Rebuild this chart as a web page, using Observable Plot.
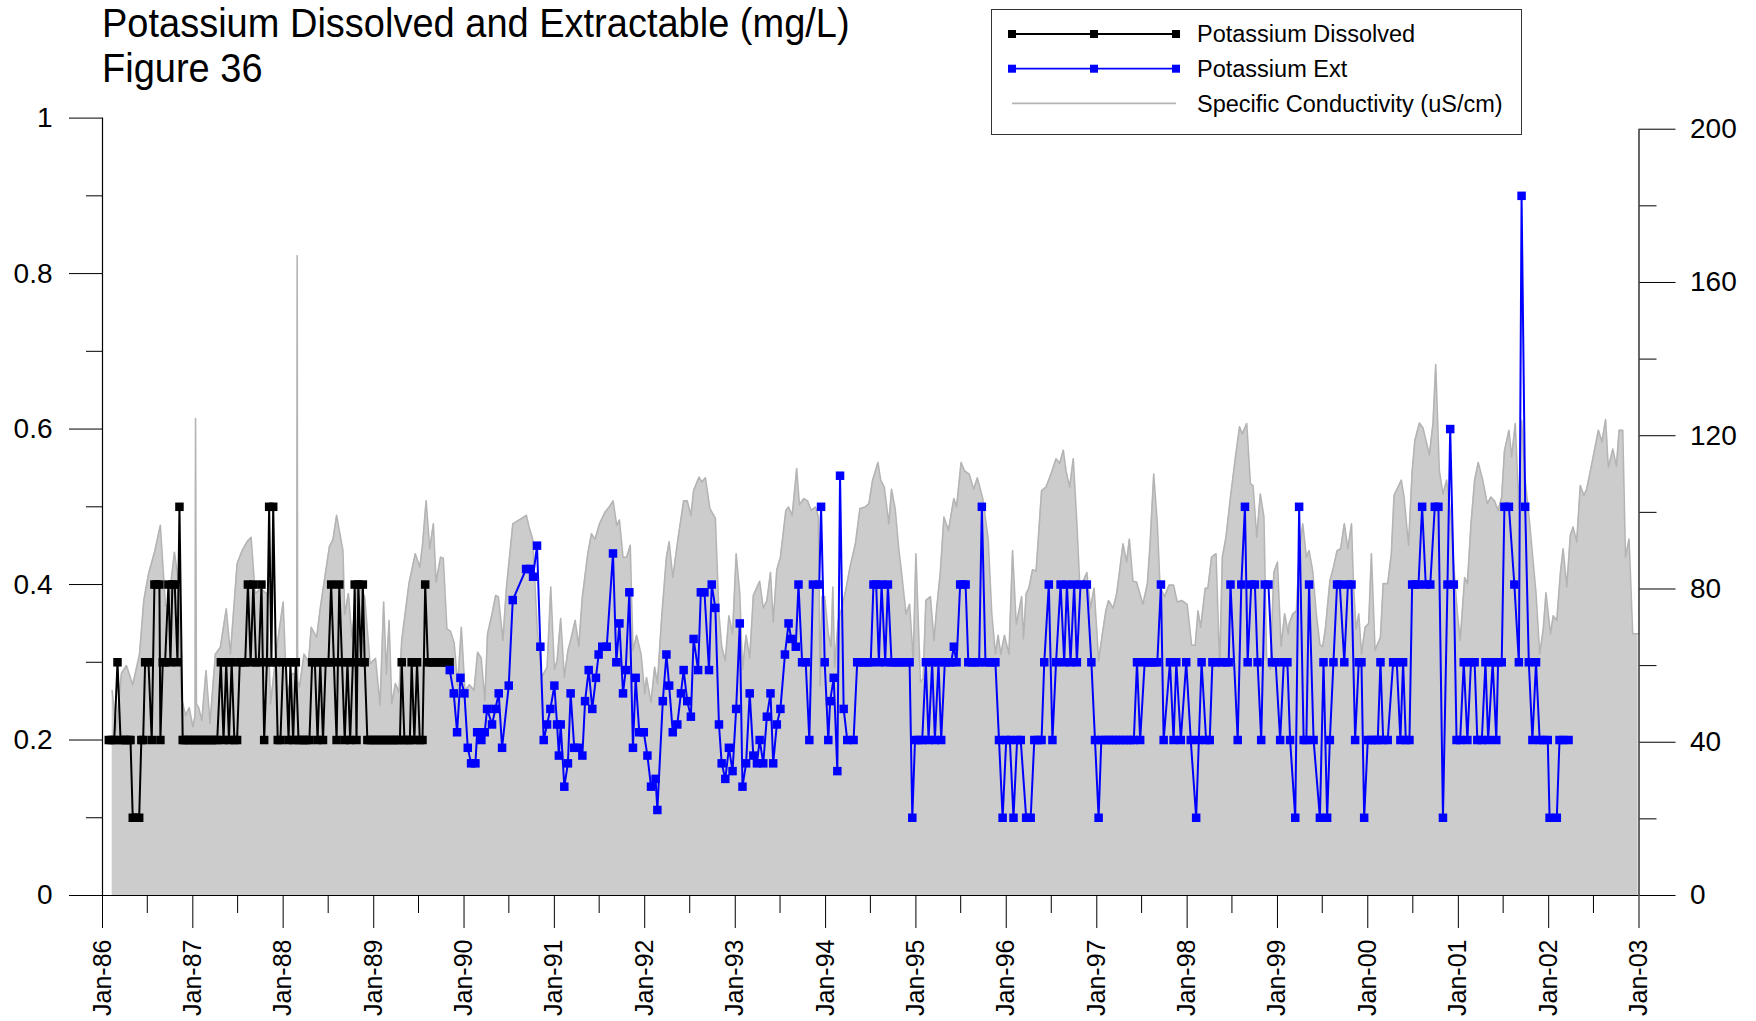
<!DOCTYPE html>
<html>
<head>
<meta charset="utf-8">
<script src="https://cdn.jsdelivr.net/npm/d3@7"></script>
<script src="https://cdn.jsdelivr.net/npm/@observablehq/plot@0.6"></script>
<style>
  html, body { margin: 0; padding: 0; background: #fff; }
  #wrap { position: relative; width: 1756px; height: 1021px; overflow: hidden; font-family: "Liberation Sans", Arial, sans-serif; }
  #title { position: absolute; left: 102px; top: 0.5px; font-size: 38px; line-height: 42px; color: #000; transform: scaleY(1.06); transform-origin: left top; white-space: nowrap; }
  #legend { position: absolute; left: 991px; top: 9px; width: 529px; height: 124px; border: 1px solid #333; background: #fff; }
  #chart { position: absolute; left: 0; top: 0; }
</style>
</head>
<body>
<div id="wrap">
  <div id="chart"></div>
  <div id="title">Potassium Dissolved and Extractable (mg/L)<br>Figure 36</div>
  <div id="legend"></div>
</div>
<script>
// ---------- DATA (decimal years) ----------
const dissolvedYears = [
  1986.07,1986.10,1986.13,1986.166,1986.20,1986.23,1986.26,1986.29,1986.31,1986.335,1986.37,1986.406,1986.43,1986.45,
  1986.472,1986.509,1986.545,1986.575,1986.60,1986.63,1986.641,1986.667,1986.693,1986.73,1986.752,1986.774,1986.80,1986.83,1986.852,1986.888,
  1986.91,1986.94,1986.97,1987.00,1987.03,1987.06,1987.09,1987.12,1987.15,1987.18,1987.21,1987.24,1987.27,
  1987.31,1987.34,1987.37,1987.40,1987.43,1987.46,1987.49,1987.52,1987.55,1987.58,1987.61,1987.64,1987.67,1987.70,1987.73,
  1987.76,1987.79,1987.82,1987.845,1987.87,1987.89,1987.92,1987.94,1987.97,1988.00,1988.03,1988.06,1988.08,1988.11,1988.14,
  1988.17,1988.20,1988.23,1988.26,1988.29,1988.32,1988.35,1988.38,1988.41,1988.44,1988.47,1988.50,1988.53,1988.56,1988.59,
  1988.62,1988.65,1988.68,1988.71,1988.74,1988.77,1988.79,1988.81,1988.83,1988.86,1988.88,1988.90,1988.93,1988.96,1988.99,
  1989.02,1989.05,1989.08,1989.11,1989.14,1989.17,1989.20,1989.23,1989.26,1989.29,1989.31,1989.34,1989.37,1989.40,1989.42,
  1989.45,1989.48,1989.51,1989.54,1989.57,1989.60,1989.63,1989.66,1989.69,1989.72,1989.75,1989.78,1989.81,1989.84
];
const dissolvedValues = [
  0.2,0.2,0.2,0.3,0.2,0.2,0.2,0.2,0.2,0.1,0.1,0.1,0.2,0.2,
  0.3,0.3,0.2,0.4,0.4,0.4,0.2,0.3,0.3,0.4,0.3,0.4,0.4,0.3,0.5,0.2,
  0.2,0.2,0.2,0.2,0.2,0.2,0.2,0.2,0.2,0.2,0.2,0.2,0.2,
  0.3,0.2,0.3,0.2,0.3,0.2,0.2,0.3,0.3,0.3,0.4,0.3,0.4,0.3,0.3,
  0.4,0.2,0.3,0.5,0.3,0.5,0.3,0.2,0.2,0.3,0.3,0.2,0.3,0.2,0.3,
  0.2,0.2,0.2,0.2,0.2,0.3,0.3,0.2,0.3,0.2,0.3,0.3,0.4,0.3,0.2,
  0.4,0.3,0.2,0.3,0.2,0.3,0.4,0.2,0.4,0.3,0.4,0.3,0.2,0.2,0.2,
  0.2,0.2,0.2,0.2,0.2,0.2,0.2,0.2,0.2,0.2,0.3,0.2,0.2,0.2,0.3,
  0.2,0.3,0.2,0.2,0.4,0.3,0.3,0.3,0.3,0.3,0.3,0.3,0.3,0.3
];

const extYears = [
  1989.842,1989.886,1989.923,1989.960,1990.004,1990.041,1990.078,1990.126,1990.145,1990.192,1990.229,1990.255,1990.310,1990.347,
  1990.384,1990.421,1990.495,1990.539,1990.687,1990.735,1990.764,1990.808,1990.845,1990.882,1990.919,1990.956,1991.00,1991.03,
  1991.05,1991.07,1991.11,1991.15,1991.18,1991.22,1991.27,1991.31,1991.34,1991.38,1991.42,1991.46,1991.49,1991.53,1991.58,
  1991.649,1991.686,1991.72,1991.76,1991.79,1991.83,1991.87,1991.90,1991.94,1991.99,1992.03,1992.07,1992.12,1992.14,1992.20,
  1992.24,1992.27,1992.31,1992.36,1992.40,1992.43,1992.47,1992.51,1992.54,1992.59,1992.62,1992.66,1992.71,1992.74,1992.78,
  1992.82,1992.85,1992.89,1992.93,1992.97,1993.01,1993.05,1993.08,1993.12,1993.16,1993.20,1993.24,1993.27,1993.31,1993.35,
  1993.39,1993.42,1993.46,1993.50,1993.55,1993.59,1993.62,1993.67,1993.70,1993.74,1993.78,1993.82,1993.86,1993.93,1993.95,
  1993.99,1994.03,1994.05,1994.09,1994.13,1994.16,1994.20,1994.24,1994.31,
  1994.35,1994.39,1994.43,1994.47,1994.50,1994.53,1994.56,1994.59,1994.62,1994.66,1994.69,1994.73,1994.76,1994.80,1994.84,
  1994.88,1994.93,1994.96,1994.99,1995.03,1995.07,1995.11,1995.14,1995.18,1995.21,1995.25,1995.28,1995.32,1995.36,1995.39,
  1995.42,1995.45,1995.49,1995.52,1995.55,1995.58,1995.62,1995.66,1995.70,1995.73,1995.77,1995.81,1995.85,1995.88,1995.92,
  1995.96,1996.00,1996.04,1996.08,1996.12,1996.16,1996.22,1996.27,1996.31,1996.35,1996.39,1996.42,1996.47,1996.51,1996.55,
  1996.60,1996.64,1996.67,1996.71,1996.75,1996.78,1996.82,1996.89,1996.94,1996.98,1997.02,1997.05,
  1997.09,1997.13,1997.17,1997.21,1997.25,1997.29,1997.33,1997.37,1997.41,1997.445,1997.48,1997.53,1997.57,1997.60,1997.64,
  1997.67,1997.71,1997.74,1997.81,1997.85,1997.88,1997.93,1997.99,1998.04,1998.10,1998.13,1998.16,1998.21,1998.25,1998.28,
  1998.32,1998.38,1998.43,1998.46,1998.48,1998.56,1998.60,1998.64,1998.67,1998.71,1998.75,1998.78,1998.82,1998.86,1998.90,
  1998.94,1998.98,1999.03,1999.07,1999.11,1999.14,1999.197,1999.24,1999.29,1999.32,1999.35,1999.40,1999.47,1999.51,1999.55,
  1999.58,1999.62,1999.66,1999.69,1999.74,1999.78,1999.82,1999.86,1999.90,1999.93,1999.96,
  2000.00,2000.04,2000.08,2000.11,2000.14,2000.17,2000.22,2000.28,2000.32,2000.36,2000.39,2000.42,2000.46,2000.49,2000.52,
  2000.56,2000.60,2000.64,2000.69,2000.74,2000.78,2000.83,2000.88,2000.91,2000.95,2000.98,2001.02,2001.06,2001.10,2001.14,
  2001.18,2001.21,2001.26,2001.30,2001.33,2001.38,2001.42,2001.44,2001.48,2001.51,2001.56,2001.62,2001.67,2001.70,2001.74,
  2001.78,2001.82,2001.86,2001.90,2001.94,2001.99,2002.01,2002.09,2002.12,2002.16,2002.22
];
const extValues = [
  0.29,0.26,0.21,0.28,0.26,0.19,0.17,0.17,0.21,0.20,0.21,0.24,0.22,0.24,
  0.26,0.19,0.27,0.38,0.42,0.42,0.41,0.45,0.32,0.20,0.22,0.24,0.27,0.22,
  0.18,0.22,0.14,0.17,0.26,0.19,0.19,0.18,0.25,0.29,0.24,0.28,0.31,0.32,0.32,
  0.44,0.30,0.35,0.26,0.29,0.39,0.19,0.28,0.21,0.21,0.18,0.14,0.15,0.11,0.25,
  0.31,0.27,0.21,0.22,0.26,0.29,0.25,0.23,0.33,0.29,0.39,0.39,0.29,0.40,0.37,
  0.22,0.17,0.15,0.19,0.16,0.24,0.35,0.14,0.17,0.26,0.18,0.17,0.20,0.17,0.23,
  0.26,0.17,0.22,0.24,0.31,0.35,0.33,0.32,0.40,0.30,0.30,0.20,0.40,0.40,0.50,
  0.30,0.20,0.25,0.28,0.16,0.54,0.24,0.20,0.20,
  0.30,0.30,0.30,0.30,0.30,0.40,0.40,0.30,0.40,0.30,0.40,0.30,0.30,0.30,0.30,
  0.30,0.30,0.10,0.20,0.20,0.20,0.30,0.20,0.30,0.20,0.30,0.20,0.30,0.30,0.30,
  0.32,0.30,0.40,0.40,0.40,0.30,0.30,0.30,0.30,0.50,0.30,0.30,0.30,0.30,0.20,
  0.10,0.20,0.20,0.10,0.20,0.20,0.10,0.10,0.20,0.20,0.20,0.30,0.40,0.20,0.30,
  0.40,0.30,0.40,0.30,0.40,0.30,0.40,0.40,0.30,0.20,0.10,0.20,
  0.20,0.20,0.20,0.20,0.20,0.20,0.20,0.20,0.20,0.30,0.20,0.30,0.30,0.30,0.30,
  0.30,0.40,0.20,0.30,0.20,0.30,0.20,0.30,0.20,0.10,0.20,0.30,0.20,0.20,0.30,
  0.30,0.30,0.30,0.30,0.40,0.20,0.40,0.50,0.30,0.40,0.40,0.30,0.20,0.40,0.40,
  0.30,0.30,0.20,0.30,0.30,0.20,0.10,0.50,0.20,0.20,0.40,0.20,0.10,0.30,0.10,
  0.20,0.30,0.40,0.40,0.30,0.40,0.40,0.20,0.30,0.30,0.10,
  0.20,0.20,0.20,0.20,0.30,0.20,0.20,0.30,0.30,0.20,0.30,0.20,0.20,0.40,0.40,
  0.40,0.50,0.40,0.40,0.50,0.50,0.10,0.40,0.60,0.40,0.20,0.20,0.30,0.20,0.30,
  0.30,0.20,0.20,0.30,0.20,0.30,0.20,0.30,0.30,0.50,0.50,0.40,0.30,0.90,0.50,
  0.30,0.20,0.30,0.20,0.20,0.20,0.10,0.10,0.20,0.20,0.20
];

const condYears = [
  1986.107,1986.15,1986.21,1986.265,1986.335,1986.41,1986.457,1986.51,1986.58,1986.64,1986.697,1986.73,1986.796,1986.84,
  1986.87,1986.92,1986.96,1987.00,1987.025,1987.03,1987.04,1987.065,1987.10,1987.146,1987.19,1987.25,1987.305,1987.37,
  1987.416,1987.49,1987.545,1987.60,1987.645,1987.69,1987.75,1987.82,1987.86,1987.93,1988.00,1988.04,1988.10,1988.15,
  1988.155,1988.16,1988.18,1988.23,1988.28,1988.31,1988.37,1988.41,1988.46,1988.51,1988.55,1988.59,1988.66,1988.68,
  1988.72,1988.76,1988.82,1988.90,1988.96,1989.02,1989.07,1989.11,1989.14,1989.17,1989.20,1989.24,1989.28,1989.31,
  1989.39,1989.46,1989.51,1989.54,1989.58,1989.62,1989.66,1989.69,1989.74,1989.77,1989.81,1989.85,1989.89,1989.93,
  1989.97,1990.01,1990.06,1990.11,1990.15,1990.19,1990.23,1990.26,1990.31,1990.35,1990.38,1990.43,1990.47,1990.54,
  1990.69,1990.72,1990.76,1990.81,1990.86,1990.92,1990.96,1991.00,1991.03,1991.07,1991.11,1991.15,1991.18,1991.23,
  1991.27,1991.31,1991.37,1991.41,1991.45,1991.50,1991.56,1991.62,1991.65,1991.69,1991.72,1991.76,1991.80,1991.84,
  1991.87,1991.91,1991.96,1992.00,1992.02,1992.07,1992.11,1992.14,1992.19,1992.24,1992.27,1992.31,1992.37,1992.43,
  1992.47,1992.51,1992.54,1992.60,1992.63,1992.67,1992.72,1992.78,1992.82,1992.85,1992.89,1992.93,1992.97,1993.01,
  1993.05,1993.08,1993.12,1993.16,1993.20,1993.27,1993.31,1993.35,1993.39,1993.42,1993.46,1993.50,1993.56,1993.59,
  1993.63,1993.68,1993.71,1993.76,1993.80,1993.84,1993.89,1993.92,1993.94,1993.96,1993.99,1994.03,1994.06,1994.08,
  1994.10,1994.14,1994.18,1994.23,1994.27,1994.33,1994.38,1994.44,1994.48,1994.52,1994.58,1994.61,1994.65,1994.70,
  1994.73,1994.77,1994.81,1994.84,1994.89,1994.93,1994.97,1995.00,1995.05,1995.08,1995.11,1995.16,1995.20,1995.23,
  1995.27,1995.31,1995.36,1995.42,1995.45,1995.50,1995.54,1995.59,1995.64,1995.68,1995.74,1995.80,1995.84,1995.88,
  1995.91,1995.94,1995.98,1996.03,1996.07,1996.11,1996.14,1996.17,1996.19,1996.22,1996.25,1996.29,1996.33,1996.39,
  1996.44,1996.50,1996.55,1996.59,1996.63,1996.66,1996.70,1996.74,1996.78,1996.81,1996.85,1996.89,1996.93,1996.97,
  1997.02,1997.06,1997.10,1997.13,1997.18,1997.22,1997.25,1997.29,1997.33,1997.36,1997.40,1997.44,1997.51,1997.56,
  1997.59,1997.63,1997.67,1997.70,1997.75,1997.80,1997.85,1997.89,1997.94,1998.00,1998.05,1998.09,1998.12,1998.15,
  1998.20,1998.23,1998.27,1998.32,1998.36,1998.39,1998.43,1998.48,1998.53,1998.58,1998.61,1998.66,1998.70,1998.73,
  1998.77,1998.81,1998.85,1998.88,1998.92,1998.96,1999.00,1999.04,1999.08,1999.12,1999.13,1999.17,1999.21,1999.24,
  1999.28,1999.32,1999.35,1999.39,1999.43,1999.47,1999.50,1999.53,1999.58,1999.62,1999.66,1999.70,1999.74,1999.78,
  1999.82,1999.84,1999.87,1999.90,1999.93,1999.97,2000.01,2000.04,2000.08,2000.14,2000.17,2000.22,2000.26,2000.29,
  2000.37,2000.40,2000.45,2000.49,2000.52,2000.57,2000.61,2000.68,2000.72,2000.75,2000.79,2000.83,2000.87,2000.91,
  2000.95,2000.99,2001.02,2001.07,2001.10,2001.14,2001.18,2001.22,2001.27,2001.32,2001.36,2001.40,2001.44,2001.48,
  2001.51,2001.56,2001.59,2001.63,2001.67,2001.70,2001.74,2001.79,2001.82,2001.86,2001.90,2001.94,2001.97,2002.02,
  2002.05,2002.09,2002.13,2002.16,2002.20,2002.24,2002.27,2002.31,2002.35,2002.39,2002.42,2002.47,2002.55,2002.59,
  2002.63,2002.66,2002.71,2002.75,2002.78,2002.82,2002.85,2002.89,2002.93,2002.99
];
const condValues = [
  53.5,43,58,60,55,63,77,84,90,96.6,75.7,75.7,89.6,82,
  52,47,49,44,47,124.5,50,49,45.7,58.7,45,63,64.8,74.8,
  63,86.6,90,92.3,93.5,78.8,80,78.8,50,64.8,76.6,51.8,57.9,58,
  167,56,54.4,63,61,70,67.4,75,83,91,92.9,99.2,90,73.4,
  78.8,67.4,81.4,78,60.5,61.9,49.6,76.6,57.9,71.8,50,55.3,53,66.6,
  81.4,89.2,85.7,91.4,103,90.5,97,81.8,88.3,88,69.6,69,66,54.8,
  70,53.5,55,53.5,63.5,62,50.9,68.3,73.5,78.3,78,66.6,80.5,97,
  99.2,96.2,93,69.5,57,59.6,80.5,59,61.3,72.3,57,63.9,66.6,71.8,
  65,78,89.2,94.4,93,97,100,101.8,103,96.6,98,88.3,88.3,91.4,
  63.9,67.9,63,52.7,56.9,50.4,59.6,55.3,73.5,88.3,92.3,83,93.5,103,
  103,99.2,105.7,109.2,107.9,109,101,98.5,73.5,65,61.3,73,68.3,89.2,
  78.8,59,67.9,62,78.3,82,75,77,84.3,71.4,85,88.3,100.5,101.4,
  99.2,111.4,102,103.6,103,100.5,101.4,98.8,54.8,78,78,68.3,65,80.5,
  59.6,71.8,75,80.5,85.7,91.8,101,101.4,102.3,108.4,113,108.4,106.6,97,
  106,101,90.5,84.5,73.5,76,61.3,89.2,55.7,56.5,77,78,66.6,75,
  84.3,98.8,95.3,103.6,101.4,113,110.8,110,106,109,103.6,93,73.5,63,
  67.9,63,67.9,63,90,70.8,74.3,78,67,78.8,80.2,85,84.7,105.7,
  106.6,110.4,114,112.8,116.2,110.8,106.6,114,97,82,82,84.3,75,80.2,
  61.3,68,74.3,77,75,78.8,84.3,91.8,87,93,82,81.8,76,81.4,
  91.8,110,97,80.5,78,81,81,76.6,77,76,65.3,65.3,74.3,70,
  80.2,80.2,88.3,89.2,59.6,88.3,93.5,104,113.5,122.3,120.5,123.2,107.5,107,
  93.5,104.8,98.8,62,59,84.3,87,65,73.5,68.3,71,73.5,74.3,89.2,
  97,88.3,90,84.7,73.5,65.5,65,69.5,82,85.7,90,90.5,97,90.5,
  97,82,69.5,73.5,63,70,71,89.2,64,67.4,81.4,81.4,89.2,104.4,
  108.4,104,91.4,110.8,118.8,123.3,122,115,123.2,138.6,110.8,104.8,108.4,100.5,
  85.7,73.5,66.6,83,81.4,97,108.4,113,108.4,102.3,104,103,100.5,104,
  116,121.4,114.5,123.2,101,124,108.4,97,89.2,78.8,63,69.5,79,68.3,
  73,71.8,84.3,90.5,80.5,94,96.2,92.3,107,104.4,106,111.8,121.4,118.4,
  124.2,111.7,116.5,112,121.4,121.4,88.3,93,68.3,68.3
];

const leftTicks = [0, 0.2, 0.4, 0.6, 0.8, 1];
const leftMinorTicks = [0.1, 0.3, 0.5, 0.7, 0.9];
const rightTicks = [0, 40, 80, 120, 160, 200];
const rightMinorTicks = [20, 60, 100, 140, 180];
const yearTicks = d3.range(1986, 2004);
const condMax = 202.9; // right-axis value at the top of the left axis (1.0)

const legendItems = [
  {label: "Potassium Dissolved", color: "#000000", markers: true},
  {label: "Potassium Ext", color: "#0000ff", markers: true},
  {label: "Specific Conductivity (uS/cm)", color: "#b4b4b4", markers: false}
];

// ---------- helpers ----------
function toDate(y) {
  const yr = Math.floor(y);
  const s = Date.UTC(yr, 0, 1), e = Date.UTC(yr + 1, 0, 1);
  return new Date(s + (y - yr) * (e - s));
}
const dissolved = dissolvedYears.map((t, i) => ({date: toDate(t), value: dissolvedValues[i]}));
const ext = extYears.map((t, i) => ({date: toDate(t), value: extValues[i]}));
const cond = condYears.map((t, i) => ({date: toDate(t), value: condValues[i]}));
const majorX = yearTicks.map(y => new Date(Date.UTC(y, 0, 1)));
const minorX = yearTicks.slice(0, -1).map(y => new Date(Date.UTC(y, 6, 1)));
const x0 = majorX[0], x1 = majorX[majorX.length - 1];
const fmtX = d3.utcFormat("%b-%y");

const chart = Plot.plot({
  width: 1756,
  height: 1021,
  marginLeft: 102,
  marginRight: 117.5,
  marginTop: 117.6,
  marginBottom: 126,
  style: {fontFamily: "'Liberation Sans', Arial, sans-serif", color: "#000", background: "transparent"},
  x: {type: "utc", domain: [x0, x1]},
  y: {domain: [0, 1]},
  marks: [
    Plot.areaY(cond, {x: "date", y1: 0, y2: d => d.value / condMax, fill: "#cccccc", curve: "linear"}),
    Plot.lineY(cond, {x: "date", y: d => d.value / condMax, stroke: "#b4b4b4", strokeWidth: 1.6}),
    Plot.line(dissolved, {x: "date", y: "value", stroke: "#000", strokeWidth: 2}),
    Plot.dot(dissolved, {x: "date", y: "value", symbol: "square", r: 4.8, fill: "#000", stroke: null}),
    Plot.line(ext, {x: "date", y: "value", stroke: "#0000ff", strokeWidth: 2}),
    Plot.dot(ext, {x: "date", y: "value", symbol: "square", r: 4.8, fill: "#0000ff", stroke: null}),
    // axis lines
    Plot.ruleY([0], {stroke: "#000", strokeWidth: 1.2}),
    Plot.ruleX([x0], {y1: 0, y2: 1, stroke: "#000", strokeWidth: 1.2}),
    Plot.ruleX([x1], {y1: 0, y2: 200 / condMax, stroke: "#000", strokeWidth: 1.2}),
    // left axis
    Plot.axisY({anchor: "left", ticks: leftTicks, tickSize: 33, tickPadding: 17, fontSize: 28,
      tickFormat: d => (d === 0 || d === 1) ? String(d) : d.toFixed(1), label: null, strokeWidth: 1}),
    Plot.axisY({anchor: "left", ticks: leftMinorTicks, tickSize: 16, tickFormat: () => "", label: null, strokeWidth: 1}),
    // right axis
    Plot.axisY({anchor: "right", ticks: rightTicks.map(v => v / condMax), tickSize: 36, tickPadding: 15, fontSize: 28,
      tickFormat: d => String(Math.round(d * condMax)), label: null, strokeWidth: 1}),
    Plot.axisY({anchor: "right", ticks: rightMinorTicks.map(v => v / condMax), tickSize: 17, tickFormat: () => "", label: null, strokeWidth: 1}),
    // bottom axis
    Plot.axisX({ticks: majorX, tickSize: 33, tickPadding: 11, tickRotate: -90, fontSize: 25,
      tickFormat: fmtX, label: null, strokeWidth: 1}),
    Plot.axisX({ticks: minorX, tickSize: 18, tickFormat: () => "", label: null, strokeWidth: 1})
  ]
});
document.getElementById("chart").appendChild(chart);

// ---------- legend ----------
const lg = d3.select("#legend").append("svg").attr("width", 529).attr("height", 124)
  .style("font-family", "'Liberation Sans', Arial, sans-serif");
legendItems.forEach((it, i) => {
  const cy = 24 + i * 34.7;
  const g = lg.append("g");
  g.append("line").attr("x1", 20).attr("x2", 184).attr("y1", cy).attr("y2", cy)
    .attr("stroke", it.color).attr("stroke-width", it.markers ? 1.8 : 1.6);
  if (it.markers) {
    [20, 102, 184].forEach(mx => g.append("rect").attr("x", mx - 4).attr("y", cy - 4)
      .attr("width", 8).attr("height", 8).attr("fill", it.color));
  }
  g.append("text").attr("x", 205).attr("y", cy).attr("dy", "0.36em")
    .attr("font-size", 23.5).attr("fill", "#000").text(it.label);
});
</script>
</body>
</html>
